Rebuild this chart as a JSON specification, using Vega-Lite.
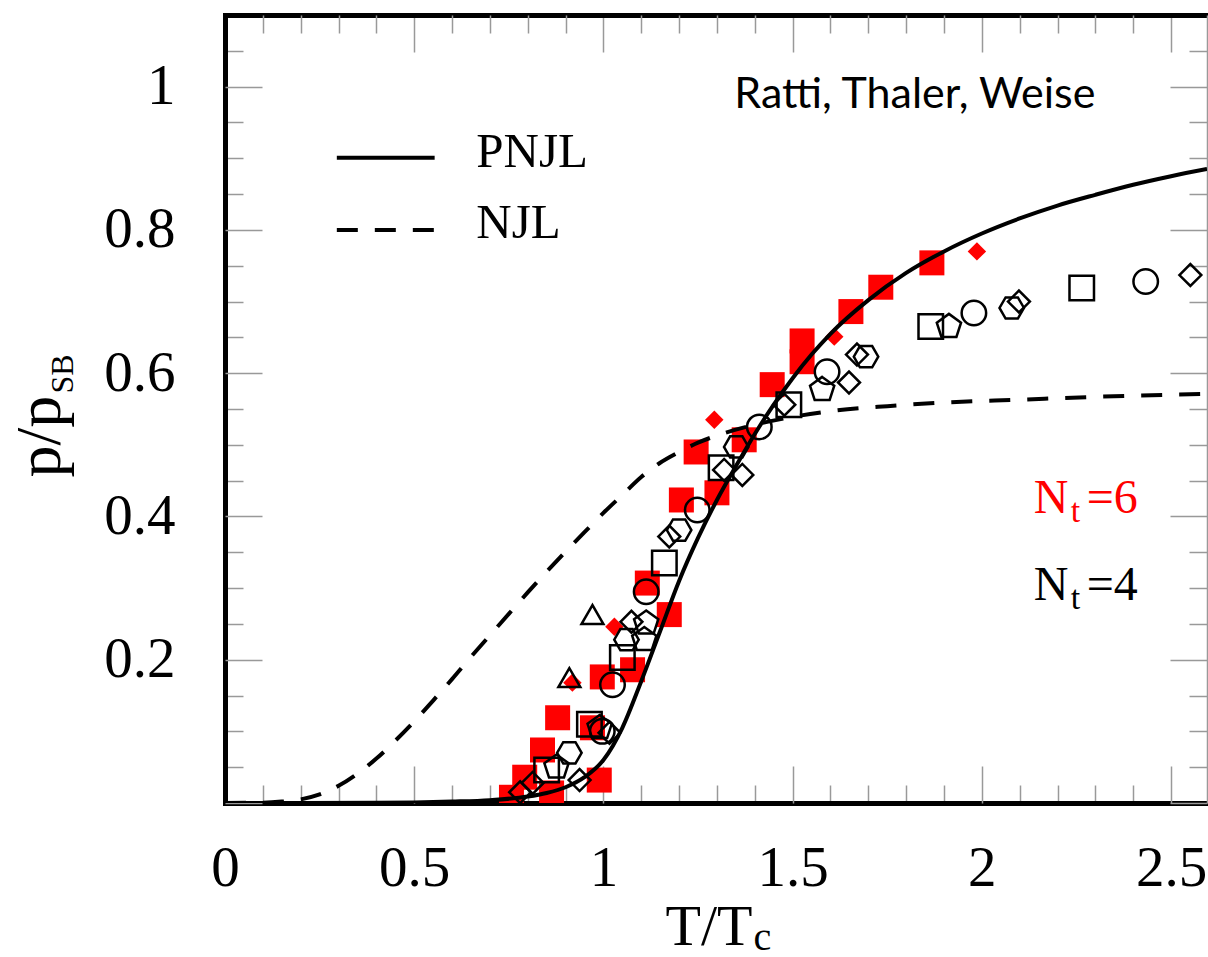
{
  "$schema": "https://vega.github.io/schema/vega-lite/v6.json",
  "width": 982,
  "height": 788,
  "autosize": {"type": "none"},
  "padding": {"left": 225, "top": 15, "right": 1, "bottom": 154},
  "background": "white",
  "config": {"view": {"stroke": null}},
  "datasets": {
    "pts": [
      {"T": 0.757, "p": 0.008, "s": "sq6"}, {"T": 0.792, "p": 0.036, "s": "sq6"}, {"T": 0.839, "p": 0.074, "s": "sq6"},
      {"T": 0.863, "p": 0.014, "s": "sq6"}, {"T": 0.879, "p": 0.119, "s": "sq6"}, {"T": 0.971, "p": 0.105, "s": "sq6"},
      {"T": 0.989, "p": 0.032, "s": "sq6"}, {"T": 0.997, "p": 0.176, "s": "sq6"}, {"T": 1.077, "p": 0.186, "s": "sq6"},
      {"T": 1.116, "p": 0.307, "s": "sq6"}, {"T": 1.174, "p": 0.263, "s": "sq6"}, {"T": 1.206, "p": 0.423, "s": "sq6"},
      {"T": 1.245, "p": 0.49, "s": "sq6"}, {"T": 1.30, "p": 0.433, "s": "sq6"}, {"T": 1.372, "p": 0.507, "s": "sq6"},
      {"T": 1.446, "p": 0.584, "s": "sq6"}, {"T": 1.525, "p": 0.616, "s": "sq6"}, {"T": 1.525, "p": 0.645, "s": "sq6"},
      {"T": 1.654, "p": 0.686, "s": "sq6"}, {"T": 1.733, "p": 0.72, "s": "sq6"}, {"T": 1.868, "p": 0.754, "s": "sq6"},
      {"T": 0.918, "p": 0.168, "s": "dm6"}, {"T": 1.029, "p": 0.246, "s": "dm6"}, {"T": 1.293, "p": 0.535, "s": "dm6"},
      {"T": 1.61, "p": 0.651, "s": "dm6"}, {"T": 1.987, "p": 0.77, "s": "dm6"},
      {"T": 0.91, "p": 0.175, "s": "tri4"}, {"T": 0.971, "p": 0.263, "s": "tri4"},
      {"T": 0.85, "p": 0.046, "s": "sq4"}, {"T": 0.963, "p": 0.11, "s": "sq4"}, {"T": 1.05, "p": 0.203, "s": "sq4"},
      {"T": 1.161, "p": 0.335, "s": "sq4"}, {"T": 1.311, "p": 0.468, "s": "sq4"}, {"T": 1.49, "p": 0.556, "s": "sq4"},
      {"T": 1.865, "p": 0.665, "s": "sq4"}, {"T": 2.264, "p": 0.719, "s": "sq4"},
      {"T": 0.997, "p": 0.10, "s": "ci4"}, {"T": 1.024, "p": 0.165, "s": "ci4"}, {"T": 1.113, "p": 0.295, "s": "ci4"},
      {"T": 1.248, "p": 0.409, "s": "ci4"}, {"T": 1.412, "p": 0.525, "s": "ci4"}, {"T": 1.591, "p": 0.602, "s": "ci4"},
      {"T": 1.979, "p": 0.684, "s": "ci4"}, {"T": 2.433, "p": 0.728, "s": "ci4"},
      {"T": 0.78, "p": 0.015, "s": "dm4"}, {"T": 0.813, "p": 0.028, "s": "dm4"}, {"T": 0.937, "p": 0.032, "s": "dm4"},
      {"T": 1.016, "p": 0.098, "s": "dm4"}, {"T": 1.074, "p": 0.253, "s": "dm4"}, {"T": 1.174, "p": 0.372, "s": "dm4"},
      {"T": 1.319, "p": 0.465, "s": "dm4"}, {"T": 1.367, "p": 0.458, "s": "dm4"}, {"T": 1.478, "p": 0.556, "s": "dm4"},
      {"T": 1.649, "p": 0.587, "s": "dm4"}, {"T": 1.670, "p": 0.626, "s": "dm4"}, {"T": 2.098, "p": 0.70, "s": "dm4"},
      {"T": 2.551, "p": 0.737, "s": "dm4"},
      {"T": 0.876, "p": 0.05, "s": "pe4"}, {"T": 0.99, "p": 0.105, "s": "pe4"}, {"T": 1.108, "p": 0.228, "s": "pe4"},
      {"T": 1.113, "p": 0.251, "s": "pe4"}, {"T": 1.578, "p": 0.577, "s": "pe4"}, {"T": 1.913, "p": 0.665, "s": "pe4"},
      {"T": 0.91, "p": 0.07, "s": "hx4"}, {"T": 1.061, "p": 0.228, "s": "hx4"}, {"T": 1.2, "p": 0.381, "s": "hx4"},
      {"T": 1.351, "p": 0.497, "s": "hx4"}, {"T": 1.694, "p": 0.623, "s": "hx4"}, {"T": 2.079, "p": 0.691, "s": "hx4"}
    ],
    "pnjl": [
      {"T": 0, "p": 0}, {"T": 0.2, "p": 0}, {"T": 0.4, "p": 0.0003}, {"T": 0.5, "p": 0.0008}, {"T": 0.6, "p": 0.002},
      {"T": 0.7, "p": 0.004}, {"T": 0.8, "p": 0.009}, {"T": 0.85, "p": 0.014}, {"T": 0.9, "p": 0.022}, {"T": 0.95, "p": 0.036},
      {"T": 1.0, "p": 0.06}, {"T": 1.05, "p": 0.105}, {"T": 1.1, "p": 0.17}, {"T": 1.15, "p": 0.24}, {"T": 1.2, "p": 0.31},
      {"T": 1.25, "p": 0.37}, {"T": 1.3, "p": 0.423}, {"T": 1.35, "p": 0.47}, {"T": 1.4, "p": 0.515}, {"T": 1.45, "p": 0.556},
      {"T": 1.5, "p": 0.593}, {"T": 1.55, "p": 0.626}, {"T": 1.6, "p": 0.655}, {"T": 1.7, "p": 0.702}, {"T": 1.8, "p": 0.74},
      {"T": 1.9, "p": 0.77}, {"T": 2.0, "p": 0.795}, {"T": 2.1, "p": 0.816}, {"T": 2.2, "p": 0.834}, {"T": 2.3, "p": 0.849},
      {"T": 2.4, "p": 0.863}, {"T": 2.5, "p": 0.875}, {"T": 2.595, "p": 0.885}
    ],
    "njl": [
      {"T": 0, "p": 0}, {"T": 0.1, "p": 0.0005}, {"T": 0.15, "p": 0.002}, {"T": 0.2, "p": 0.005}, {"T": 0.25, "p": 0.012},
      {"T": 0.3, "p": 0.024}, {"T": 0.35, "p": 0.041}, {"T": 0.4, "p": 0.062}, {"T": 0.45, "p": 0.087}, {"T": 0.5, "p": 0.114},
      {"T": 0.55, "p": 0.143}, {"T": 0.6, "p": 0.173}, {"T": 0.65, "p": 0.204}, {"T": 0.7, "p": 0.234}, {"T": 0.75, "p": 0.264},
      {"T": 0.8, "p": 0.294}, {"T": 0.85, "p": 0.323}, {"T": 0.9, "p": 0.351}, {"T": 0.95, "p": 0.378}, {"T": 1.0, "p": 0.405},
      {"T": 1.05, "p": 0.43}, {"T": 1.1, "p": 0.455}, {"T": 1.15, "p": 0.475}, {"T": 1.2, "p": 0.49}, {"T": 1.25, "p": 0.503},
      {"T": 1.3, "p": 0.513}, {"T": 1.4, "p": 0.528}, {"T": 1.5, "p": 0.539}, {"T": 1.6, "p": 0.547}, {"T": 1.75, "p": 0.554},
      {"T": 1.9, "p": 0.559}, {"T": 2.1, "p": 0.563}, {"T": 2.3, "p": 0.567}, {"T": 2.595, "p": 0.571}
    ],
    "legendlines": [
      {"T": 0.2955, "p": 0.9008, "k": "PNJL"}, {"T": 0.554, "p": 0.9008, "k": "PNJL"},
      {"T": 0.2955, "p": 0.800, "k": "NJL"}, {"T": 0.554, "p": 0.800, "k": "NJL"}
    ],
    "nt": [
      {"T": 2.137, "p": 0.405, "nt": 6, "n": "N", "sub": "t", "eq": "=6"},
      {"T": 2.137, "p": 0.2835, "nt": 4, "n": "N", "sub": "t", "eq": "=4"}
    ]
  },
  "resolve": {"axis": {"x": "independent", "y": "independent"}},
  "layer": [
    {
      "data": {"name": "pts"},
      "transform": [{"filter": {"field": "s", "oneOf": ["sq6", "dm6"]}}],
      "mark": {"type": "point", "filled": true, "color": "#ff0000", "opacity": 1, "clip": true},
      "encoding": {
        "x": {"field": "T", "type": "quantitative", "scale": {"domain": [0, 2.595], "nice": false, "zero": false},
          "axis": {"orient": "bottom", "values": [0.1,0.2,0.3,0.4,0.6,0.7,0.8,0.9,1.1,1.2,1.3,1.4,1.6,1.7,1.8,1.9,2.1,2.2,2.3,2.4],
            "labels": false, "domain": false, "grid": false, "ticks": true, "tickSize": -18, "tickColor": "#999999", "tickWidth": 1.5,
            "title": "c", "titleFont": "Liberation Serif", "titleFontSize": 40, "titleFontWeight": "normal", "titleColor": "black",
            "titleX": 528, "titleY": 146, "titleAlign": "left", "titleBaseline": "alphabetic", "titleAngle": 0}},
        "y": {"field": "p", "type": "quantitative", "scale": {"domain": [0, 1.1], "nice": false, "zero": false},
          "axis": {"orient": "left", "values": [0.05,0.1,0.15,0.25,0.3,0.35,0.45,0.5,0.55,0.65,0.7,0.75,0.85,0.9,0.95,1.05],
            "labels": false, "domain": false, "grid": false, "ticks": true, "tickSize": -18, "tickColor": "#999999", "tickWidth": 1.5,
            "title": "SB", "titleFont": "Liberation Serif", "titleFontSize": 32, "titleFontWeight": "normal", "titleColor": "black",
            "titleX": -153, "titleY": 378, "titleAlign": "left", "titleBaseline": "alphabetic", "titleAngle": -90}},
        "shape": {"field": "s", "type": "nominal", "legend": null,
          "scale": {"domain": ["sq6","dm6","tri4","sq4","ci4","dm4","pe4","hx4"],
            "range": ["square","diamond","triangle-up","square","circle","diamond","M0,-1L0.951,-0.309L0.588,0.809L-0.588,0.809L-0.951,-0.309Z","M1,0L0.5,0.866L-0.5,0.866L-1,0L-0.5,-0.866L0.5,-0.866Z"]}},
        "size": {"condition": [{"test": "datum.s === 'dm6'", "value": 340}], "value": 625}
      }
    },
    {
      "data": {"name": "njl"},
      "mark": {"type": "line", "color": "black", "strokeWidth": 4, "strokeDash": [21, 17], "interpolate": "monotone", "clip": true},
      "encoding": {
        "x": {"field": "T", "type": "quantitative",
          "axis": {"orient": "bottom", "values": [0, 0.5, 1, 1.5, 2, 2.5], "format": "~g", "ticks": false, "grid": false,
            "domain": true, "domainColor": "black", "domainWidth": 5, "domainCap": "square",
            "labelFont": "Liberation Serif", "labelFontSize": 57, "labelColor": "black", "labelPadding": 82, "labelBaseline": "alphabetic",
            "labelFlush": false, "labelOverlap": false,
            "title": "T/T", "titleFont": "Liberation Serif", "titleFontSize": 58, "titleFontWeight": "normal", "titleColor": "black",
            "titleX": 440, "titleY": 141, "titleAlign": "left", "titleBaseline": "alphabetic", "titleAngle": 0}},
        "y": {"field": "p", "type": "quantitative",
          "axis": {"orient": "left", "values": [0.2, 0.4, 0.6, 0.8, 1], "format": "~g", "ticks": false, "grid": false,
            "domain": true, "domainColor": "black", "domainWidth": 5, "domainCap": "square",
            "labelFont": "Liberation Serif", "labelFontSize": 57, "labelColor": "black", "labelPadding": 50, "labelBaseline": "middle", "labelAlign": "right",
            "labelFlush": false, "labelOverlap": false,
            "title": "p/p", "titleFont": "Liberation Serif", "titleFontSize": 64, "titleFontWeight": "normal", "titleColor": "black",
            "titleX": -166, "titleY": 462, "titleAlign": "left", "titleBaseline": "alphabetic", "titleAngle": -90}}
      }
    },
    {
      "data": {"name": "pnjl"},
      "mark": {"type": "line", "color": "black", "strokeWidth": 4, "interpolate": "monotone", "clip": true},
      "encoding": {
        "x": {"field": "T", "type": "quantitative",
          "axis": {"orient": "bottom", "values": [0, 0.5, 1, 1.5, 2, 2.5], "labels": false, "domain": false, "grid": false,
            "ticks": true, "tickSize": -37, "tickColor": "#999999", "tickWidth": 1.5, "title": null}},
        "y": {"field": "p", "type": "quantitative",
          "axis": {"orient": "left", "values": [0, 0.2, 0.4, 0.6, 0.8, 1], "labels": false, "domain": false, "grid": false,
            "ticks": true, "tickSize": -37, "tickColor": "#999999", "tickWidth": 1.5, "title": null}}
      }
    },
    {
      "data": {"name": "pts"},
      "transform": [{"filter": {"field": "s", "oneOf": ["tri4", "sq4", "ci4", "dm4", "pe4", "hx4"]}}],
      "mark": {"type": "point", "filled": false, "color": "black", "strokeWidth": 2.5, "opacity": 1, "clip": true},
      "encoding": {
        "x": {"field": "T", "type": "quantitative",
          "axis": {"orient": "top", "values": [0, 0.5, 1, 1.5, 2, 2.5], "labels": false, "grid": false,
            "domain": true, "domainColor": "black", "domainWidth": 5, "domainCap": "square",
            "ticks": true, "tickSize": -37, "tickColor": "#999999", "tickWidth": 1.5, "title": null}},
        "y": {"field": "p", "type": "quantitative",
          "axis": {"orient": "right", "values": [0, 0.2, 0.4, 0.6, 0.8, 1], "labels": false, "grid": false,
            "domain": true, "domainColor": "#999999", "domainWidth": 1.5,
            "ticks": true, "tickSize": -37, "tickColor": "#999999", "tickWidth": 1.5, "title": null}},
        "shape": {"field": "s", "type": "nominal", "legend": null,
          "scale": {"domain": ["sq6","dm6","tri4","sq4","ci4","dm4","pe4","hx4"],
            "range": ["square","diamond","triangle-up","square","circle","diamond","M0,-1L0.951,-0.309L0.588,0.809L-0.588,0.809L-0.951,-0.309Z","M1,0L0.5,0.866L-0.5,0.866L-1,0L-0.5,-0.866L0.5,-0.866Z"]}},
        "size": {"condition": [
          {"test": "datum.s === 'dm4'", "value": 480},
          {"test": "datum.s === 'tri4'", "value": 480},
          {"test": "datum.s === 'pe4'", "value": 650},
          {"test": "datum.s === 'ci4'", "value": 600}
        ], "value": 600}
      }
    },
    {
      "data": {"name": "legendlines"},
      "transform": [{"filter": "datum.k === 'PNJL'"}],
      "mark": {"type": "line", "color": "black", "strokeWidth": 4},
      "encoding": {
        "x": {"field": "T", "type": "quantitative",
          "axis": {"orient": "top", "values": [0.1,0.2,0.3,0.4,0.6,0.7,0.8,0.9,1.1,1.2,1.3,1.4,1.6,1.7,1.8,1.9,2.1,2.2,2.3,2.4],
            "labels": false, "domain": false, "grid": false, "ticks": true, "tickSize": -18, "tickColor": "#999999", "tickWidth": 1.5, "title": null}},
        "y": {"field": "p", "type": "quantitative",
          "axis": {"orient": "right", "values": [0.05,0.1,0.15,0.25,0.3,0.35,0.45,0.5,0.55,0.65,0.7,0.75,0.85,0.9,0.95,1.05],
            "labels": false, "domain": false, "grid": false, "ticks": true, "tickSize": -18, "tickColor": "#999999", "tickWidth": 1.5, "title": null}}
      }
    },
    {
      "data": {"name": "legendlines"},
      "transform": [{"filter": "datum.k === 'NJL'"}],
      "mark": {"type": "line", "color": "black", "strokeWidth": 4, "strokeDash": [21, 17]},
      "encoding": {
        "x": {"field": "T", "type": "quantitative", "axis": null},
        "y": {"field": "p", "type": "quantitative", "axis": null}
      }
    },
    {
      "data": {"values": [{"T": 1.823, "p": 0.9707, "label": "Ratti, Thaler, Weise"}]},
      "mark": {"type": "text", "font": "Lato", "fontSize": 43, "color": "black", "align": "center", "baseline": "alphabetic"},
      "encoding": {
        "x": {"field": "T", "type": "quantitative", "axis": null},
        "y": {"field": "p", "type": "quantitative", "axis": null},
        "text": {"field": "label"}
      }
    },
    {
      "data": {"values": [{"T": 0.664, "p": 0.888, "label": "PNJL"}, {"T": 0.664, "p": 0.789, "label": "NJL"}]},
      "mark": {"type": "text", "font": "Liberation Serif", "fontSize": 49, "color": "black", "align": "left", "baseline": "alphabetic"},
      "encoding": {
        "x": {"field": "T", "type": "quantitative", "axis": null},
        "y": {"field": "p", "type": "quantitative", "axis": null},
        "text": {"field": "label"}
      }
    },
    {
      "data": {"name": "nt"},
      "mark": {"type": "text", "font": "Liberation Serif", "fontSize": 48, "align": "left", "baseline": "alphabetic"},
      "encoding": {
        "x": {"field": "T", "type": "quantitative", "axis": null},
        "y": {"field": "p", "type": "quantitative", "axis": null},
        "text": {"field": "n"},
        "color": {"condition": {"test": "datum.nt === 6", "value": "#ff0000"}, "value": "black"}
      }
    },
    {
      "data": {"name": "nt"},
      "mark": {"type": "text", "font": "Liberation Serif", "fontSize": 34, "align": "left", "baseline": "alphabetic", "dx": 37, "dy": 9},
      "encoding": {
        "x": {"field": "T", "type": "quantitative", "axis": null},
        "y": {"field": "p", "type": "quantitative", "axis": null},
        "text": {"field": "sub"},
        "color": {"condition": {"test": "datum.nt === 6", "value": "#ff0000"}, "value": "black"}
      }
    },
    {
      "data": {"name": "nt"},
      "mark": {"type": "text", "font": "Liberation Serif", "fontSize": 48, "align": "left", "baseline": "alphabetic", "dx": 53},
      "encoding": {
        "x": {"field": "T", "type": "quantitative", "axis": null},
        "y": {"field": "p", "type": "quantitative", "axis": null},
        "text": {"field": "eq"},
        "color": {"condition": {"test": "datum.nt === 6", "value": "#ff0000"}, "value": "black"}
      }
    }
  ]
}
